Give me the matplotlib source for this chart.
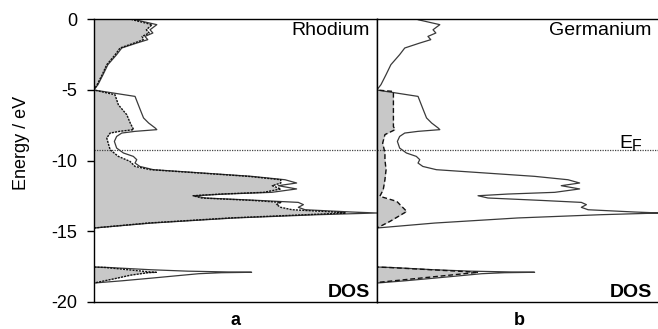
#!/usr/bin/env python3
# -*- coding: utf-8 -*-

import numpy as np
import matplotlib
matplotlib.use('Agg')
import matplotlib.pyplot as plt
import matplotlib.transforms as mtransforms

plt.rcParams['font.family'] = ['Liberation Sans', 'DejaVu Sans']

# total DOS (same curve in both panels), energy in eV, DOS in arb. units
energy_tot = [0.2, -0.05, -0.4, -0.76, -0.99, -1.23, -1.46, -1.70, -2.05, -2.52,
              -3.23, -3.93, -4.64, -5.0,
              -5.02, -5.47, -6.39, -6.99, -7.35, -7.70, -7.82, -7.94, -8.06, -8.3,
              -8.65, -9.12, -9.47, -9.71, -9.94, -10.18, -10.42, -10.65, -10.88,
              -11.12, -11.36, -11.59, -11.78, -12.01, -12.25, -12.37, -12.49,
              -12.65, -12.82, -12.96, -13.12, -13.31, -13.48, -13.64, -13.71,
              -13.83, -14.06, -14.42, -14.77,
              -17.53, -17.56, -17.72, -17.82, -17.88, -17.9, -17.93, -18.0,
              -18.3, -18.5, -18.66, -20.0]
dos_tot = [0.13, 0.145, 0.222, 0.198, 0.208, 0.18, 0.19, 0.151, 0.098, 0.08,
           0.049, 0.032, 0.014, 0.0,
           0.0, 0.145, 0.163, 0.175, 0.193, 0.216, 0.222, 0.145, 0.098, 0.08,
           0.072, 0.08, 0.104, 0.139, 0.151, 0.145, 0.162, 0.21, 0.38,
           0.557, 0.675, 0.716, 0.651, 0.716, 0.628, 0.463, 0.357,
           0.392, 0.58, 0.722, 0.74, 0.722, 0.746, 0.91, 1.0,
           0.792, 0.498, 0.204, 0.0,
           0.0, 0.05, 0.2, 0.33, 0.48, 0.557, 0.45, 0.37,
           0.21, 0.1, 0.0, 0.0]

# rhodium partial DOS
energy_rh = [0.2, -0.05, -0.4, -0.76, -0.99, -1.23, -1.46, -1.70, -2.05, -2.52,
             -3.23, -3.93, -4.64, -5.0,
             -5.02, -5.35, -6.06, -6.77, -7.35, -7.82, -7.94, -8.06, -8.41,
             -8.76, -9.24, -9.71, -10.06, -10.42, -10.65, -10.88, -11.12,
             -11.36, -11.59, -11.78, -12.01, -12.25, -12.37, -12.49, -12.65,
             -12.82, -12.96, -13.12, -13.31, -13.48, -13.64, -13.71, -13.83,
             -14.06, -14.42, -14.77,
             -17.53, -17.56, -17.72, -17.88, -17.9, -17.93, -18.1, -18.3,
             -18.66, -20.0]
dos_rh = [0.125, 0.135, 0.205, 0.185, 0.195, 0.17, 0.175, 0.142, 0.092, 0.075,
          0.045, 0.029, 0.011, 0.0,
          0.0, 0.074, 0.086, 0.116, 0.128, 0.14, 0.09, 0.057, 0.045,
          0.05, 0.057, 0.086, 0.127, 0.145, 0.2, 0.37, 0.545,
          0.66, 0.66, 0.63, 0.66, 0.6, 0.45, 0.35, 0.38,
          0.56, 0.66, 0.645, 0.66, 0.7, 0.85, 0.89, 0.75,
          0.48, 0.19, 0.0,
          0.0, 0.04, 0.12, 0.2, 0.22, 0.19, 0.13, 0.085,
          0.0, 0.0]

# germanium partial DOS
energy_ge = [0.2, -5.0, -5.02, -5.12, -6.5, -7.6, -7.82, -8.17, -8.77, -9.45,
             -9.94, -10.65, -11.36, -12.06, -12.53, -12.89, -13.6, -14.3,
             -14.77, -17.53, -17.57, -17.9, -18.62, -20.0]
dos_ge = [0.0, 0.0, 0.0, 0.058, 0.058, 0.058, 0.064, 0.028, 0.02, 0.028,
          0.028, 0.032, 0.028, 0.022, 0.01, 0.07, 0.105, 0.046,
          0.0, 0.0, 0.05, 0.358, 0.0, 0.0]

e_fermi = -9.29
y_ticks = [0, -5, -10, -15, -20]

W, H = 658, 329
fig = plt.figure(figsize=(W / 100, H / 100), dpi=100)
ax1 = fig.add_axes([94 / W, 27 / H, 283 / W, 283 / H])
ax2 = fig.add_axes([377 / W, 27 / H, 283 / W, 283 / H], sharey=ax1)

fill_col = '#c8c8c8'


def panel(ax, e_part, d_part, dashes):
    ax.fill_betweenx(e_part, 0, d_part, color=fill_col, lw=0, zorder=1)
    ax.plot(dos_tot, energy_tot, color='#3a3a3a', lw=0.9, zorder=2)
    ax.plot(d_part, e_part, color='#111111', lw=1.0, dashes=dashes, zorder=3)
    ax.axhline(e_fermi, color='#444444', lw=0.9, ls=(0, (1, 1)), zorder=2)
    ax.set_xlim(0, 1.0)
    ax.set_ylim(-20, 0)
    ax.set_xticks([])
    for s in ax.spines.values():
        s.set_linewidth(1.0)
        s.set_color('black')
        s.set_zorder(4)


panel(ax1, energy_rh, dos_rh, (1.5, 0.8))
panel(ax2, energy_ge, dos_ge, (3.5, 2.0))

ax1.set_yticks(y_ticks)
ax1.set_yticklabels(['0', '-5', '-10', '-15', '-20'])
ax1.tick_params(axis='y', direction='out', length=5, width=1.0, pad=7,
                labelsize=13)
ax2.tick_params(axis='y', left=False, labelleft=False)
ax2.spines['right'].set_visible(False)

ax1.text(0.975, 0.99, 'Rhodium', transform=ax1.transAxes, ha='right',
         va='top', fontsize=14)
ax2.text(0.971, 0.99, 'Germanium', transform=ax2.transAxes, ha='right',
         va='top', fontsize=14)
ax1.text(0.975, 0.018, 'DOS', transform=ax1.transAxes, ha='right',
         va='baseline', fontsize=14, fontweight='bold')
ax2.text(0.971, 0.018, 'DOS', transform=ax2.transAxes, ha='right',
         va='baseline', fontsize=14, fontweight='bold')

trans = mtransforms.blended_transform_factory(ax2.transAxes, ax2.transData)
ax2.text(0.855, -9.12, 'E', transform=trans, ha='left', va='baseline',
         fontsize=14)
ax2.text(0.901, -9.36, 'F', transform=trans, ha='left', va='baseline',
         fontsize=11.5)

fig.text(22 / W, 1 - 142.5 / H, 'Energy / eV', rotation=90, ha='center',
         va='center', fontsize=13)
fig.text(235.5 / W, 1 - 325 / H, 'a', ha='center', va='baseline',
         fontsize=13, fontweight='bold')
fig.text(519 / W, 1 - 325 / H, 'b', ha='center', va='baseline',
         fontsize=13, fontweight='bold')

fig.savefig('out.png', dpi=100)
